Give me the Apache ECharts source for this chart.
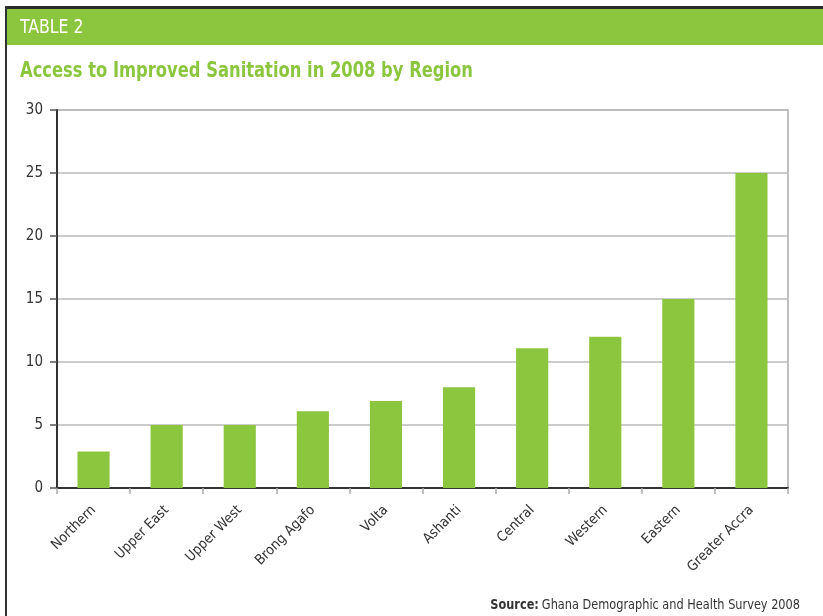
<!DOCTYPE html>
<html>
<head>
<meta charset="utf-8">
<script src="https://cdn.jsdelivr.net/npm/echarts@6/dist/echarts.min.js"></script>
<style>
html,body{margin:0;padding:0;background:#fff;}
#c{width:823px;height:616px;}
</style>
</head>
<body>
<div id="c"></div>
<script>
const categories = ["Northern","Upper East","Upper West","Brong Agafo","Volta","Ashanti","Central","Western","Eastern","Greater Accra"];
const values = [2.9, 5, 5, 6.1, 6.9, 8, 11.1, 12, 15, 25];
const yTicks = [0, 5, 10, 15, 20, 25, 30];

const FONT = "'DejaVu Sans Condensed','Liberation Sans Narrow',sans-serif";
const GREEN = '#8cc63f';

const chart = echarts.init(document.getElementById('c'));
chart.setOption({
  animation: false,
  backgroundColor: '#fff',
  textStyle: { fontFamily: FONT },
  graphic: [
    { type: 'rect', shape: { x: 5, y: 6, width: 818, height: 3 }, style: { fill: '#2a2a2a' } },
    { type: 'rect', shape: { x: 5, y: 6, width: 2, height: 610 }, style: { fill: '#333' } },
    { type: 'rect', shape: { x: 7, y: 9, width: 816, height: 36 }, style: { fill: GREEN } },
    { type: 'text', x: 20, y: 28, scaleX: 0.92, style: { text: 'TABLE 2', fill: '#fff', font: "19px " + FONT, textVerticalAlign: 'middle', verticalAlign: 'middle' } },
    { type: 'text', x: 20, y: 72, scaleX: 0.865, style: { text: 'Access to Improved Sanitation in 2008 by Region', fill: GREEN, font: "bold 21px " + FONT, textVerticalAlign: 'middle', verticalAlign: 'middle' } },
    { type: 'text', x: 800, y: 605, scaleX: 0.9, style: {
        text: '{b|Source:} {n|Ghana Demographic and Health Survey 2008}',
        align: 'right', verticalAlign: 'middle', textAlign: 'right', textVerticalAlign: 'middle',
        rich: {
          b: { fontWeight: 'bold', fontSize: 14, fill: '#333', fontFamily: FONT },
          n: { fontSize: 14, fill: '#333', fontFamily: FONT }
        }
    } }
  ],
  grid: { left: 57, right: 35, top: 110, bottom: 128, show: true, borderColor: '#aaa', borderWidth: 1.5 },
  xAxis: {
    type: 'category',
    data: categories,
    boundaryGap: true,
    axisLine: { lineStyle: { color: '#333', width: 2 } },
    axisTick: { show: true, length: 6, lineStyle: { color: '#aaa', width: 1.5 } },
    axisLabel: { rotate: 45, fontSize: 14, color: '#333', margin: 20, fontFamily: FONT }
  },
  yAxis: {
    type: 'value',
    min: yTicks[0],
    max: yTicks[yTicks.length - 1],
    interval: 5,
    axisLine: { show: true, lineStyle: { color: '#333', width: 2 } },
    axisTick: { show: true, length: 7, lineStyle: { color: '#555', width: 1.5 } },
    axisLabel: { fontSize: 15, color: '#333', margin: 14, fontFamily: FONT },
    splitLine: { lineStyle: { color: '#bbb', width: 1.5 } }
  },
  series: [{
    type: 'bar',
    data: values,
    barWidth: '44%',
    itemStyle: { color: GREEN }
  }]
});
</script>
</body>
</html>
